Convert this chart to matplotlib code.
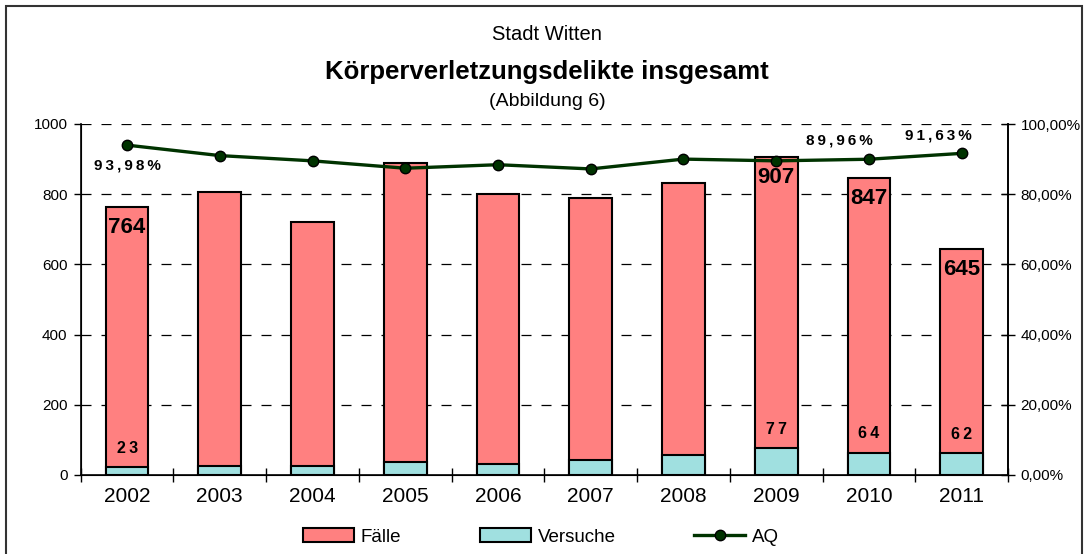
import matplotlib
matplotlib.use("Agg")
import matplotlib.pyplot as plt
from matplotlib.patches import Rectangle, Patch
from matplotlib.lines import Line2D
import numpy as np

plt.rcParams['font.family'] = ['Liberation Sans', 'DejaVu Sans']

years = ["2002", "2003", "2004", "2005", "2006", "2007", "2008", "2009", "2010", "2011"]
faelle = [764, 806, 721, 890, 800, 790, 832, 907, 847, 645]
versuche = [23, 27, 26, 37, 31, 42, 57, 77, 64, 62]
aq = [93.98, 91.0, 89.5, 87.4, 88.4, 87.2, 90.0, 89.5, 89.96, 91.63]

faelle_labels = {0: "764", 7: "907", 8: "847", 9: "645"}
versuche_labels = {0: "23", 7: "77", 8: "64", 9: "62"}
aq_labels = {0: "93,98%", 8: "89,96%", 9: "91,63%"}

left_ticks = [0, 200, 400, 600, 800, 1000]
right_ticks = [0, 20, 40, 60, 80, 100]
right_ticklabels = ["0,00%", "20,00%", "40,00%", "60,00%", "80,00%", "100,00%"]

c_faelle = "#FF8080"
c_versuche = "#A0E0E0"
c_aq = "#003300"


def spaced(s):
    return "\u2009".join(s)


fig = plt.figure(figsize=(10.85, 5.54), dpi=100)
ax = fig.add_axes([80.7/1085, 1-475/554, (1008-80.7)/1085, 351/554])

x = np.arange(len(years))
bw = 0.46
ax.bar(x, faelle, width=bw, color=c_faelle, edgecolor="black", linewidth=1.5, zorder=3)
ax.bar(x, versuche, width=bw, color=c_versuche, edgecolor="black", linewidth=1.5, zorder=3)

ax.set_xlim(-0.5, len(years) - 0.5)
ax.set_ylim(0, 1000)
ax.set_yticks(left_ticks)
ax.set_yticklabels([str(t) for t in left_ticks], fontsize=11)
ax.set_xticks(x)
ax.set_xticklabels(years, fontsize=15)
ax.set_xticks(np.arange(-0.5, len(years)), minor=True)
ax.tick_params(axis='x', which='major', length=0, pad=9)
ax.tick_params(axis='x', which='minor', length=10, direction='inout', width=1)
ax.tick_params(axis='y', length=5, direction='out', width=1, pad=4.5)
for yv in left_ticks[1:]:
    ax.axhline(yv, color="black", linestyle=(0, (8, 8)), linewidth=0.9, zorder=1)
ax.spines['top'].set_visible(False)
for s in ['left', 'bottom', 'right']:
    ax.spines[s].set_linewidth(1.2)

for i, t in faelle_labels.items():
    ax.text(x[i], faelle[i] - 60, t, ha='center', va='center', fontsize=16,
            fontweight='bold', zorder=5)
for i, t in versuche_labels.items():
    ax.text(x[i], versuche[i] + 53, spaced(t), ha='center', va='center', fontsize=11.5,
            fontweight='bold', zorder=5)

ax2 = ax.twinx()
ax2.set_ylim(0, 100)
ax2.set_yticks(right_ticks)
ax2.set_yticklabels(right_ticklabels, fontsize=11)
ax2.tick_params(axis='y', length=10, direction='inout', width=1, pad=4)
ax2.spines['top'].set_visible(False)
ax2.spines['right'].set_linewidth(1.2)
ax2.plot(x, aq, color=c_aq, linewidth=2.4, marker='o', markersize=7.5,
         markerfacecolor=c_aq, markeredgecolor="black", zorder=6)

aq_offsets = {0: (0, -15), 8: (-21, 13.7), 9: (-16.5, 12.7)}
for i, t in aq_labels.items():
    ax2.annotate(spaced(t), (x[i], aq[i]), xytext=aq_offsets[i], textcoords='offset points',
                 ha='center', va='center', fontsize=11, fontweight='bold')

fig.text(547/1085, 1-35/554, "Stadt Witten", ha='center', va='center', fontsize=14.5)
fig.text(547/1085, 1-72/554, "Körperverletzungsdelikte insgesamt", ha='center', va='center',
         fontsize=18.5, fontweight='bold')
fig.text(547/1085, 1-102/554, "(Abbildung 6)", ha='center', va='center', fontsize=14)

fig.patches.append(Rectangle((6/1085, -0.02), 1076/1085, 1.02 - 6/554, transform=fig.transFigure,
                             fill=False, edgecolor="#333333", linewidth=1.5))

handles = [Patch(facecolor=c_faelle, edgecolor="black", linewidth=1.5),
           Patch(facecolor=c_versuche, edgecolor="black", linewidth=1.5),
           Line2D([0], [0], color=c_aq, linewidth=2.4, marker='o', markersize=7.5,
                  markerfacecolor=c_aq, markeredgecolor="black")]
fig.legend(handles, ["Fälle", "Versuche", "AQ"], loc='center', bbox_to_anchor=(541/1085, 1-537/554),
           ncol=3, frameon=False, fontsize=13.5, handlelength=2.7, handleheight=0.75,
           handletextpad=0.37, columnspacing=4.2)

fig.savefig("out.png", dpi=100)
